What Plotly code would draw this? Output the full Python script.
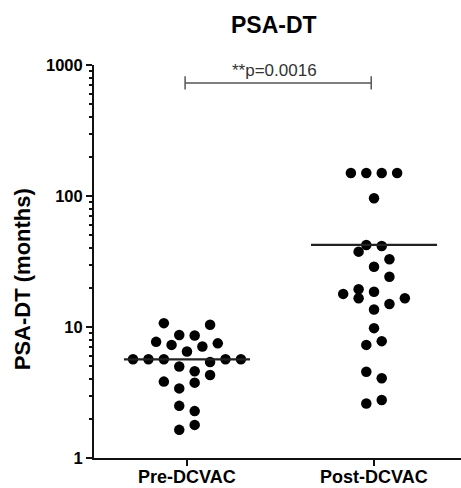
import plotly.graph_objects as go
import numpy as np

# ---------------- data ----------------
categories = ["Pre-DCVAC", "Post-DCVAC"]
pre_values = [10.7, 10.4, 7.7, 8.7, 8.6, 7.3, 7.1, 7.5, 6.5,
              5.67, 5.67, 5.67, 5.67, 5.67, 5.4, 5.0, 4.6, 4.3,
              3.83, 3.76, 3.4, 2.5, 2.28, 1.79, 1.64]
post_values = [150, 150, 150, 150, 96, 42.3, 41.5, 37.6, 32.9, 28.8,
               24.2, 19.4, 17.9, 16.6, 18.6, 16.6, 13.6, 15.0, 9.8,
               7.3, 7.8, 4.56, 4.06, 2.61, 2.77]
y_tick_vals = [1, 10, 100, 1000]
y_tick_text = ["1", "10", "100", "1000"]
p_label = "**p=0.0016"
title_text = "PSA-DT"
y_title = "PSA-DT (months)"

# horizontal swarm slots (layout only, in dot-slot units)
pre_slots = [-3, 3, -4, -1, 1, -2, 2, 4, 0, -7, -5, -3, 5, 7, 3, -1, 1, 3,
             -3, 1, -1, -1, 1, 1, -1]
post_slots = [-3, -1, 1, 3, 0, -1, 1, -2, 2, 0, 2, -2, -4, -2, 0, 4, 0, 2, 0,
              -1, 1, -1, 1, -1, 1]
SLOT = 0.0412
FONT = "Liberation Sans, Arial, sans-serif"

fig = go.Figure()

groups = [(0, pre_values, pre_slots), (1, post_values, post_slots)]
for ci, vals, slots in groups:
    xs = [ci + s * SLOT for s in slots]
    fig.add_trace(go.Scatter(
        x=xs, y=vals, mode="markers",
        marker=dict(size=10.5, color="black", line=dict(width=0)),
        showlegend=False, hoverinfo="y"))
    m = float(np.mean(vals))
    fig.add_trace(go.Scatter(
        x=[ci - 0.337, ci + 0.337], y=[m, m], mode="lines",
        line=dict(color="#222222", width=2.2),
        showlegend=False, hoverinfo="skip"))

# significance bracket
by = 730
fig.add_trace(go.Scatter(
    x=[-0.01, -0.01, None, -0.01, 0.985, None, 0.985, 0.985],
    y=[650, 820, None, by, by, None, 650, 820],
    mode="lines", line=dict(color="#555555", width=1.5),
    connectgaps=False, showlegend=False, hoverinfo="skip"))

fig.add_annotation(x=0.47, y=np.log10(by), xref="x", yref="y", text=p_label,
                   showarrow=False, yanchor="bottom", yshift=1,
                   font=dict(family=FONT, size=17, color="#333333"))

# category labels (placed as annotations to sit tight under the axis)
for i, c in enumerate(categories):
    fig.add_annotation(x=i, y=-0.049, xref="x", yref="paper",
                       text="<b>" + c + "</b>", showarrow=False,
                       xanchor="center", yanchor="middle",
                       font=dict(family=FONT, size=18, color="black"))

# y-axis title
fig.add_annotation(x=-0.195, y=0.456, xref="paper", yref="paper",
                   text="<b>" + y_title + "</b>", textangle=-90, showarrow=False,
                   xanchor="center", yanchor="middle",
                   font=dict(family=FONT, size=22, color="black"))

fig.update_layout(
    width=461, height=488,
    margin=dict(l=94, r=0, t=65, b=30),
    paper_bgcolor="white", plot_bgcolor="white",
    title=dict(text="<b>" + title_text + "</b>", x=0.594, xanchor="center",
               y=1 - 25 / 488, yanchor="middle",
               font=dict(family=FONT, size=23, color="black")),
    font=dict(family=FONT, color="black"),
)

fig.update_xaxes(
    range=[-0.497, 1.465], tickvals=[0, 1], automargin=False,
    showticklabels=False,
    showline=True, linecolor="#111111", linewidth=2,
    ticks="outside", ticklen=6, tickwidth=2, tickcolor="#111111",
    showgrid=False, zeroline=False)

fig.update_yaxes(
    type="log", range=[0, 3], tickvals=y_tick_vals, automargin=False,
    ticktext=["<b>" + t + "</b>" for t in y_tick_text],
    tickfont=dict(family=FONT, size=16.5, color="black"),
    showline=True, linecolor="#111111", linewidth=2,
    ticks="outside", ticklen=6, tickwidth=2, tickcolor="#111111",
    minor=dict(ticks="outside", ticklen=3, tickwidth=1.5, tickcolor="#111111",
               dtick="D1", showgrid=False),
    showgrid=False, zeroline=False)

fig.write_html("out.html")
